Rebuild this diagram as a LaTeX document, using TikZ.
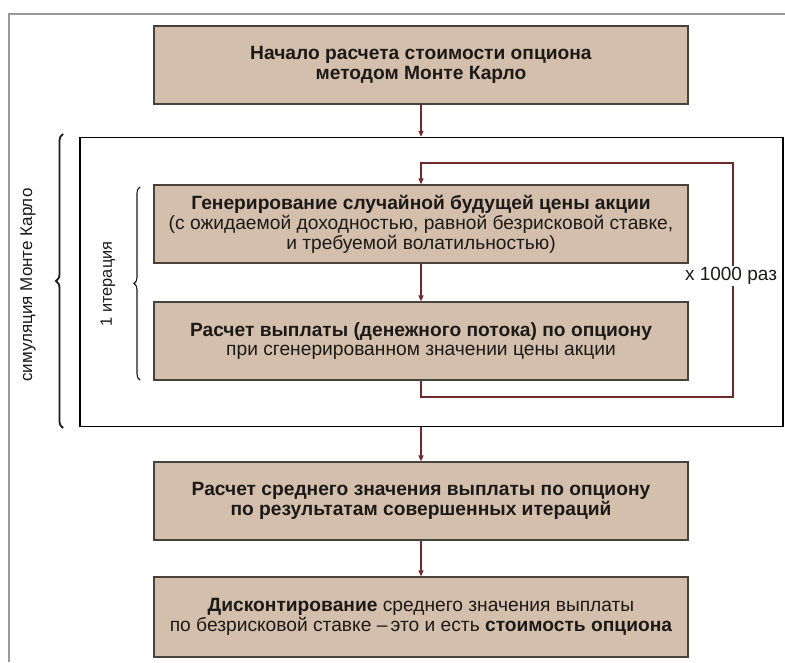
\documentclass[tikz,border=0pt]{standalone}
\usepackage{fontspec}
\setmainfont{Liberation Sans}
\usetikzlibrary{arrows.meta,decorations.pathreplacing}
\definecolor{boxfill}{RGB}{211,191,172}
\definecolor{boxline}{RGB}{70,66,62}
\definecolor{arr}{RGB}{112,42,42}
\definecolor{txt}{RGB}{28,26,24}
\begin{document}
\begin{tikzpicture}[x=1pt,y=-1pt,
  stepbox/.style={draw=boxline,line width=1.2pt,fill=boxfill,minimum width=534pt,
    align=center,text=txt,font=\fontsize{19.2}{19.5}\selectfont,inner sep=0pt},
  flow/.style={draw=arr,line width=1.3pt,-{Triangle[length=6pt,width=5pt]}},
  bracestyle/.style={decorate,decoration={brace,amplitude=7pt},line width=1.8pt,draw=txt}]
\useasboundingbox (0,0) rectangle (785,662);
% outer frame
\draw[draw=gray!80,line width=1.5pt] (9,662) -- (9,14) -- (785,14);
% boxes
\node[stepbox,minimum height=78pt] (b1) at (421,65) {\textbf{Начало расчета стоимости опциона}\\\textbf{методом Монте Карло}};
\node[draw=black,line width=1.3pt,minimum width=703pt,minimum height=289pt,inner sep=0pt] (frame) at (431.5,282) {};
\node[stepbox,minimum height=78pt] (b2) at (421,224) {\textbf{Генерирование случайной будущей цены акции}\\[1pt](с ожидаемой доходностью, равной безрисковой ставке,\\и требуемой волатильностью)};
\node[stepbox,minimum height=78pt] (b3) at (421,341) {\textbf{Расчет выплаты (денежного потока) по опциону}\\при сгенерированном значении цены акции};
\node[stepbox,minimum height=78pt] (b4) at (421,501) {\textbf{Расчет среднего значения выплаты по опциону}\\\textbf{по результатам совершенных итераций}};
\node[stepbox,minimum height=80pt] (b5) at (421,617) {\textbf{Дисконтирование} среднего значения выплаты\\по безрисковой ставке~–\,это и есть \textbf{стоимость опциона}};
% arrows
\draw[flow] (b1.south) -- (b1.south |- frame.north);
\draw[flow] (b2) -- (b3);
\draw[flow] (b1.south |- frame.south) -- (b4.north);
\draw[flow] (b4) -- (b5);
% loop
\coordinate (lr) at (733,397);
\coordinate (tr) at (733,163);
\draw[flow] (b3.south) |- (lr) -- (tr) -| (b2.north);
\node[fill=white,text=txt,font=\fontsize{19}{21}\selectfont,inner sep=1pt] (times) at (731,276) {x 1000 раз};
% braces
\draw[bracestyle] (63,428) -- (63,134);
\node[rotate=90,text=txt,font=\fontsize{17}{19}\selectfont] (sim) at (28,285) {симуляция Монте Карло};
\draw[bracestyle,line width=1.1pt,decoration={amplitude=6pt}] (140,380) -- (140,187);
\node[rotate=90,text=txt,font=\fontsize{16.4}{19}\selectfont] (iter) at (108,284) {1 итерация};
\end{tikzpicture}
\end{document}
